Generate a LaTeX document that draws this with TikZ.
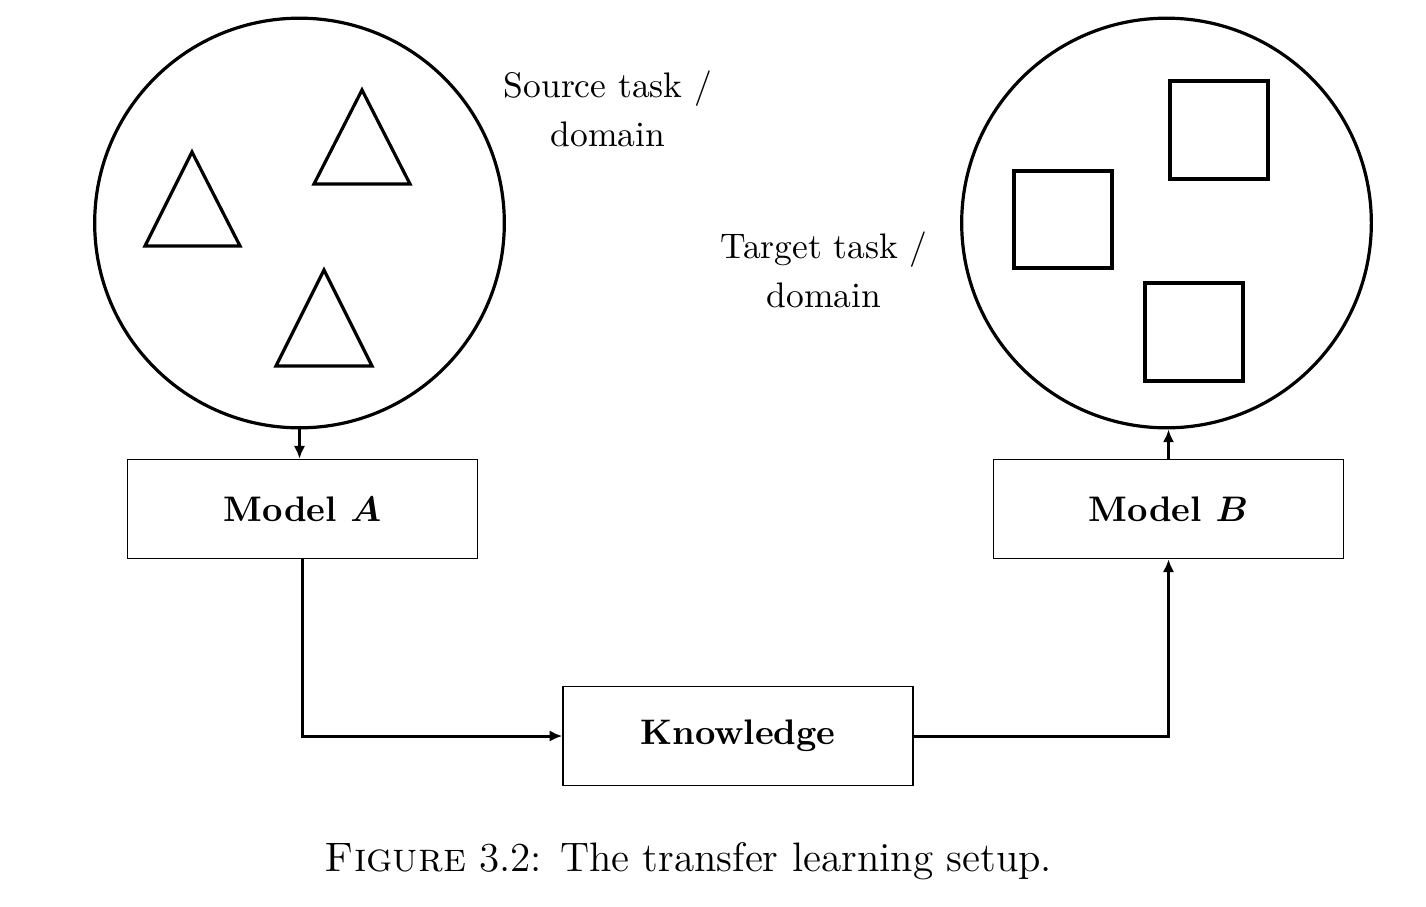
\documentclass[tikz,border=0pt]{standalone}
\usetikzlibrary{arrows.meta}
\begin{document}
\begin{tikzpicture}[x=0.2817pt,y=-0.2817pt,
  every node/.style={font=\fontsize{10}{13.8}\selectfont},
  domaincircle/.style={circle,draw,line width=0.9pt,minimum size=115.4pt,inner sep=0pt},
  modelbox/.style={rectangle,draw,line width=0.4pt,minimum width=98.6pt,minimum height=27.9pt,inner sep=0pt,font=\fontsize{10}{12}\selectfont\bfseries},
  shapeline/.style={line width=0.9pt},
  conn/.style={line width=0.85pt,-{Latex[length=3.6pt,width=3.2pt]}},
  tasklabel/.style={align=center,inner sep=0pt}]
\useasboundingbox[fill=white] (0,0) rectangle (1426,906);
% circles
\node[domaincircle] (src) at (299.5,223) {};
\node[domaincircle] (tgt) at (1166.5,223) {};
% triangles
\draw[shapeline] (192,152) -- (240,246) -- (145,246) -- cycle;
\draw[shapeline] (362,90) -- (410,184) -- (314,184) -- cycle;
\draw[shapeline] (324,270) -- (372,366) -- (276,366) -- cycle;
% squares
\draw[shapeline] (1170,81) rectangle (1268,179);
\draw[shapeline] (1014,171) rectangle (1112,268);
\draw[shapeline] (1145,283) rectangle (1243,381);
% labels
\node[tasklabel] (srclab) at (608,109) {Source task /\\ domain};
\node[tasklabel] (tgtlab) at (824,270) {Target task /\\ domain};
% boxes
\node[modelbox] (mA) at (302.5,509) {Model {\boldmath$A$}};
\node[modelbox] (mB) at (1168.5,509) {Model {\boldmath$B$}};
\node[modelbox] (kn) at (738,736) {Knowledge};
% connectors
\draw[conn] (src) -- (src |- mA.north);
\draw[conn] (mA.south) |- (kn.west);
\draw[conn] (kn.east) -| (mB.south);
\draw[conn] (mB) -- (mB |- tgt.south);
% caption
\node[anchor=base,inner sep=0pt,font=\fontsize{11.6}{13.6}\selectfont] (cap) at (688.5,871.7) {\textsc{Figure} 3.2: The transfer learning setup.};
\end{tikzpicture}
\end{document}
